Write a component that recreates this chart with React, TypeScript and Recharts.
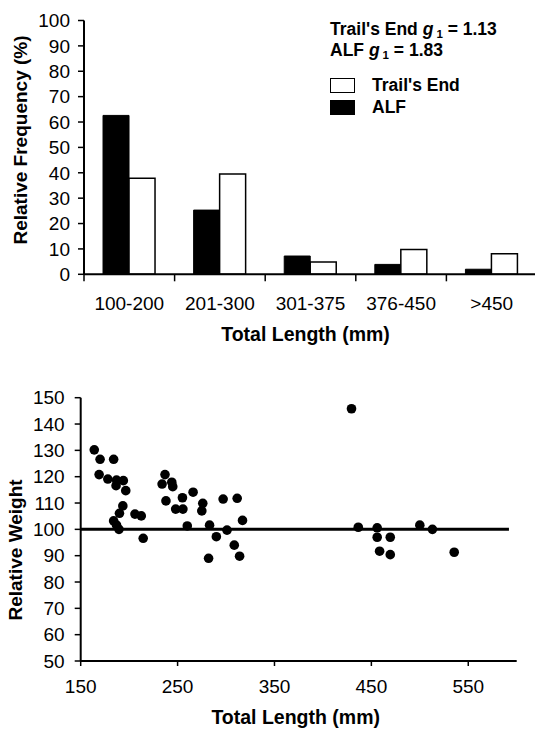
import {
  BarChart, Bar, XAxis, YAxis, Legend, Label,
  ScatterChart, Scatter, ReferenceLine,
} from 'recharts'

const FONT = '"Liberation Sans", Arial, Helvetica, sans-serif'

// ─── Length-frequency histogram ──────────────────────────────────────────────
const lengthClasses = ['100-200', '201-300', '301-375', '376-450', '>450']
const alfPct = [62.6, 25.3, 7.2, 3.9, 2.0]
const trailsEndPct = [37.8, 39.5, 4.8, 9.8, 8.1]
const freqTicks = [0, 10, 20, 30, 40, 50, 60, 70, 80, 90, 100]

const histData = lengthClasses.map((c, i) => ({
  range: c,
  alf: alfPct[i],
  te: trailsEndPct[i],
}))

// ─── Relative weight vs total length ─────────────────────────────────────────
const totalLength = [
  164, 170, 184, 169, 178, 187, 194, 186.5, 196.5, 193.5, 190, 184, 187, 189.5,
  206, 212.5, 214.5, 237, 234, 244, 245, 238, 248, 255.5, 255, 266, 260, 276,
  275, 283, 282, 290, 297, 301, 308.5, 311.5, 314, 317,
  429.5, 436.5, 456, 456, 458.5, 469.5, 469.5, 500, 513, 535.5,
]
const relWeight = [
  130.2, 126.6, 126.6, 120.8, 119.1, 118.7, 118.5, 116.6, 114.7, 108.9, 106.1, 103.2, 101.6, 100,
  105.8, 105.1, 96.6, 120.8, 117.2, 117.9, 116.2, 110.8, 107.7, 107.7, 112, 114.1, 101.3, 109.9,
  107, 101.6, 89, 97.2, 111.5, 99.7, 94, 111.8, 89.8, 103.4,
  145.8, 100.8, 100.6, 97, 91.7, 97, 90.4, 101.6, 100, 91.3,
]
const lengthTicks = [150, 250, 350, 450, 550]
const weightTicks = [50, 60, 70, 80, 90, 100, 110, 120, 130, 140, 150]
const standardWr = 100
const standardRange = [150, 592]

const scatterData = totalLength.map((tl, i) => ({ tl, wr: relWeight[i] }))

const TICK_FONT = { fontSize: 19, fontFamily: FONT, fill: '#000' }
const TITLE_FONT = { fontSize: 19.5, fontFamily: FONT, fontWeight: 700, fill: '#000' }
const AXIS_LINE = { stroke: '#000', strokeWidth: 2 }
const TICK_LINE = { stroke: '#000', strokeWidth: 1.5 }

const CLASS_TICK_LEN = 7
const CLASS_TICK_GAP = 15

// category labels centred, tick marks on the class boundaries
function ClassTick(props: any) {
  const { x, y, payload, index, visibleTicksCount } = props
  const half = payload?.offset ?? 45
  const top = y - CLASS_TICK_LEN - CLASS_TICK_GAP
  const last = index === visibleTicksCount - 1
  return (
    <g>
      <line x1={x - half} x2={x - half} y1={top} y2={top + CLASS_TICK_LEN} stroke="#000" strokeWidth={1.5} />
      {last && (
        <line x1={x + half} x2={x + half} y1={top} y2={top + CLASS_TICK_LEN} stroke="#000" strokeWidth={1.5} />
      )}
      <text x={x} y={y} dy="0.71em" textAnchor="middle" {...TICK_FONT}>
        {payload.value}
      </text>
    </g>
  )
}

function FreqLegend({ payload }: any) {
  const items = [...(payload ?? [])].reverse()
  const sub = { fontSize: 11.5, verticalAlign: -3, lineHeight: 0, marginLeft: 3 }
  return (
    <div style={{ fontFamily: FONT, fontWeight: 700, fontSize: 17.5, color: '#000', lineHeight: '21.7px', whiteSpace: 'nowrap' }}>
      <div>Trail's End <i>g</i><span style={sub}>1</span> = 1.13</div>
      <div>ALF <i>g</i><span style={sub}>1</span> = 1.83</div>
      <div style={{ marginTop: 13 }}>
        {items.map((it: any) => (
          <div key={it.value} style={{ display: 'flex', alignItems: 'center', height: 22 }}>
            <span
              style={{
                display: 'inline-block',
                width: 23,
                height: 13,
                border: '1px solid #000',
                background: it.payload?.fill ?? it.color,
              }}
            />
            <span style={{ marginLeft: 17 }}>{it.value}</span>
          </div>
        ))}
      </div>
    </div>
  )
}

function Dot(props: any) {
  const { cx, cy } = props
  if (cx == null || cy == null) return null
  return <circle cx={cx} cy={cy} r={4.8} fill="#000" />
}

export default function App() {
  return (
    <div
      style={{
        position: 'absolute',
        left: 0,
        top: 0,
        width: 535,
        height: 730,
        overflow: 'hidden',
        background: '#fff',
      }}
    >
      <div style={{ position: 'absolute', left: 0, top: 0 }}>
        <BarChart
          width={537}
          height={350}
          data={histData}
          margin={{ top: 20.5, right: 0, bottom: 0, left: 0 }}
          barCategoryGap="21%"
          barGap={0}
        >
          <XAxis
            dataKey="range"
            height={75.7}
            interval={0}
            tickLine={false}
            tickSize={CLASS_TICK_LEN}
            tickMargin={CLASS_TICK_GAP}
            axisLine={AXIS_LINE}
            tick={<ClassTick />}
          >
            <Label value="Total Length (mm)" position="insideBottom" offset={9} dx={-5} {...TITLE_FONT} />
          </XAxis>
          <YAxis
            domain={[0, 100]}
            ticks={freqTicks}
            interval={0}
            width={84}
            tickSize={6}
            tickMargin={8}
            axisLine={AXIS_LINE}
            tickLine={TICK_LINE}
            tick={TICK_FONT}
          >
            <Label value="Relative Frequency (%)" position="center" angle={-90} dx={-22} dy={-7.4} {...TITLE_FONT} fontSize={19} />
          </YAxis>
          <Legend
            layout="vertical"
            align="center"
            verticalAlign="middle"
            content={<FreqLegend />}
            wrapperStyle={{ left: 330, top: 18.5, width: 205 }}
          />
          <Bar dataKey="alf" name="ALF" fill="#000" stroke="#000" strokeWidth={1} isAnimationActive={false} />
          <Bar dataKey="te" name="Trail's End" fill="#fff" stroke="#000" strokeWidth={1.5} isAnimationActive={false} />
        </BarChart>
      </div>

      <div style={{ position: 'absolute', left: 0, top: 350 }}>
        <ScatterChart width={535} height={380} margin={{ top: 47.7, right: 18.3, bottom: 0, left: 0 }}>
          <XAxis
            type="number"
            dataKey="tl"
            domain={[150, 600]}
            ticks={lengthTicks}
            interval={0}
            height={69}
            tickSize={5}
            tickMargin={14}
            axisLine={AXIS_LINE}
            tickLine={TICK_LINE}
            tick={TICK_FONT}
          >
            <Label value="Total Length (mm)" position="insideBottom" offset={6} dx={-3} {...TITLE_FONT} />
          </XAxis>
          <YAxis
            type="number"
            dataKey="wr"
            domain={[50, 150]}
            ticks={weightTicks}
            interval={0}
            width={80.7}
            tickSize={6}
            tickMargin={10}
            axisLine={AXIS_LINE}
            tickLine={TICK_LINE}
            tick={TICK_FONT}
          >
            <Label value="Relative Weight" position="center" angle={-90} dx={-25.4} dy={20.6} {...TITLE_FONT} fontSize={19} />
          </YAxis>
          <ReferenceLine
            segment={[
              { x: standardRange[0], y: standardWr },
              { x: standardRange[1], y: standardWr },
            ]}
            stroke="#000"
            strokeWidth={3}
          />
          <Scatter data={scatterData} fill="#000" shape={<Dot />} isAnimationActive={false} />
        </ScatterChart>
      </div>
    </div>
  )
}
